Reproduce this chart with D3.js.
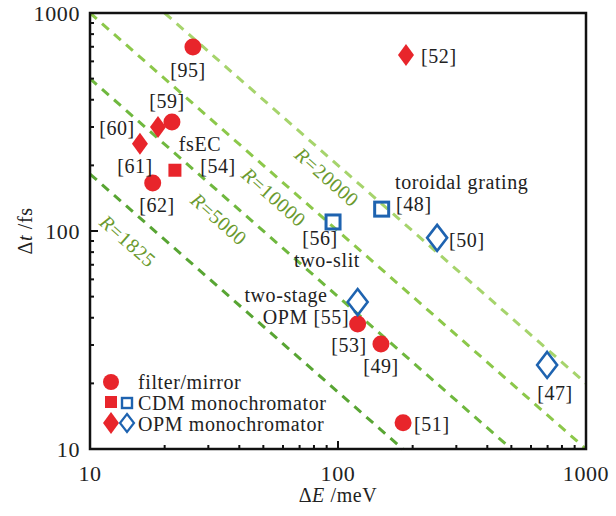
<!DOCTYPE html>
<html>
<head>
<meta charset="utf-8">
<script src="https://cdn.jsdelivr.net/npm/d3@7/dist/d3.min.js"></script>
<style>
  body { margin: 0; background: #fff; }
  text { font-family: "Liberation Serif", "DejaVu Serif", serif; fill: #222; letter-spacing: 0.6px; }
</style>
</head>
<body>
<script>
// data (x = ΔE in meV, y = Δt in fs)
const filterPts = [
  { x: 26, y: 698, ref: "[95]" },
  { x: 21.4, y: 316, ref: "[59]" },
  { x: 17.9, y: 166, ref: "[62]" },
  { x: 120, y: 37.4, ref: "[53]" },
  { x: 149, y: 30.3, ref: "[49]" },
  { x: 183, y: 13.2, ref: "[51]" }
];
const cdmFilled = [ { x: 22, y: 190, ref: "[54]" } ];
const cdmOpen = [
  { x: 95.5, y: 110, ref: "[56]" },
  { x: 150, y: 126, ref: "[48]" }
];
const opmFilled = [
  { x: 188, y: 641, ref: "[52]" },
  { x: 18.8, y: 300, ref: "[60]" },
  { x: 15.9, y: 251, ref: "[61]" }
];
const opmOpen = [
  { x: 251, y: 93, ref: "[50]" },
  { x: 120, y: 47.2, ref: "[55]" },
  { x: 697, y: 24.3, ref: "[47]" }
];
// resolving-power lines: Δt·ΔE = R
const rValues = [20000, 10000, 5000, 1825];
const rColors = ["#a6d46c", "#8cc84a", "#6fb83e", "#58a533"];
const xTicks = [10, 100, 1000];
const yTicks = [10, 100, 1000];

const W = 616, H = 516;
const m = { l: 90, t: 13, r: 30, b: 67 };
const x = d3.scaleLog().domain([10, 1000]).range([m.l, W - m.r]);
const y = d3.scaleLog().domain([10, 1000]).range([H - m.b, m.t]);

const svg = d3.select("body").append("svg").attr("width", W).attr("height", H);

const red = "#e8252b", blue = "#1e63b0";

// R lines
const rg = svg.append("g");
rValues.forEach((R, i) => {
  const x0 = Math.max(10, R / 1000), x1 = Math.min(1000, R / 10);
  rg.append("line")
    .attr("x1", x(x0)).attr("y1", y(R / x0))
    .attr("x2", x(x1)).attr("y2", y(R / x1))
    .attr("stroke", rColors[i]).attr("stroke-width", 3)
    .attr("stroke-dasharray", "9,7");
});

// R line labels
const ang = Math.atan2(y(10) - y(100), x(100) - x(10)) * 180 / Math.PI;
const rLabels = [
  { R: 20000, px: 327, py: 177 },
  { R: 10000, px: 274, py: 197 },
  { R: 5000, px: 219, py: 219 },
  { R: 1825, px: 128, py: 241 }
];
rLabels.forEach(d => {
  const t = svg.append("text")
    .attr("transform", `translate(${d.px},${d.py}) rotate(${ang})`)
    .attr("text-anchor", "middle").attr("dy", "0.35em")
    .style("font-size", "20px").style("fill", "#6a9a2e");
  t.append("tspan").style("font-style", "italic").style("fill", "#6a9a2e").text("R");
  t.append("tspan").style("fill", "#6a9a2e").text("=" + d.R);
});

// axes frame
svg.append("rect").attr("x", m.l).attr("y", m.t)
  .attr("width", W - m.r - m.l).attr("height", H - m.b - m.t)
  .attr("fill", "none").attr("stroke", "#111").attr("stroke-width", 2.5);

// minor + major ticks (inward)
const minor = [];
[10, 100].forEach(b => { for (let k = 2; k <= 9; k++) minor.push(b * k); });
const tg = svg.append("g").attr("stroke", "#111").attr("stroke-width", 2);
minor.forEach(v => {
  tg.append("line").attr("x1", x(v)).attr("x2", x(v)).attr("y1", y(10)).attr("y2", y(10) - 4);
  tg.append("line").attr("y1", y(v)).attr("y2", y(v)).attr("x1", x(10)).attr("x2", x(10) + 4);
});
[100].forEach(v => {
  tg.append("line").attr("x1", x(v)).attr("x2", x(v)).attr("y1", y(10)).attr("y2", y(10) - 8);
  tg.append("line").attr("y1", y(v)).attr("y2", y(v)).attr("x1", x(10)).attr("x2", x(10) + 8);
});

xTicks.forEach(v => {
  svg.append("text").attr("x", x(v)).attr("y", H - m.b + 32)
    .attr("text-anchor", "middle").style("font-size", "22px").text(v);
});
yTicks.forEach(v => {
  svg.append("text").attr("x", m.l - 10).attr("y", y(v)).attr("dy", "0.35em")
    .attr("text-anchor", "end").style("font-size", "22px").text(v);
});

// axis titles
const xt = svg.append("text").attr("x", x(100)).attr("y", H - 14)
  .attr("text-anchor", "middle").style("font-size", "20px");
xt.append("tspan").text("Δ");
xt.append("tspan").style("font-style", "italic").text("E");
xt.append("tspan").text(" /meV");
const yt = svg.append("text").attr("transform", `translate(32,${y(100)}) rotate(-90)`)
  .attr("text-anchor", "middle").style("font-size", "20px");
yt.append("tspan").text("Δ");
yt.append("tspan").style("font-style", "italic").text("t");
yt.append("tspan").text(" /fs");

// markers
const diamond = (cx, cy, w, h) =>
  `M${cx},${cy - h / 2}L${cx + w / 2},${cy}L${cx},${cy + h / 2}L${cx - w / 2},${cy}Z`;

const mg = svg.append("g");
mg.selectAll(".c").data(filterPts).join("circle")
  .attr("cx", d => x(d.x)).attr("cy", d => y(d.y)).attr("r", 8.5).attr("fill", red);
mg.selectAll(".s").data(cdmFilled).join("rect")
  .attr("x", d => x(d.x) - 6.5).attr("y", d => y(d.y) - 6.5)
  .attr("width", 13).attr("height", 13).attr("fill", red);
mg.selectAll(".os").data(cdmOpen).join("rect")
  .attr("x", d => x(d.x) - 7).attr("y", d => y(d.y) - 7)
  .attr("width", 14).attr("height", 14).attr("fill", "none")
  .attr("stroke", blue).attr("stroke-width", 3);
mg.selectAll(".d").data(opmFilled).join("path")
  .attr("d", d => diamond(x(d.x), y(d.y), 16, 22)).attr("fill", red);
mg.selectAll(".od").data(opmOpen).join("path")
  .attr("d", d => diamond(x(d.x), y(d.y), 20, 26)).attr("fill", "none")
  .attr("stroke", blue).attr("stroke-width", 2.6);

// point annotations
const notes = [
  { t: "[95]", px: 188, py: 70, a: "middle" },
  { t: "[59]", px: 167, py: 101, a: "middle" },
  { t: "[60]", px: 117, py: 128, a: "middle" },
  { t: "fsEC", px: 200, py: 144, a: "middle" },
  { t: "[54]", px: 218, py: 166, a: "middle" },
  { t: "[61]", px: 135, py: 166, a: "middle" },
  { t: "[62]", px: 157, py: 205, a: "middle" },
  { t: "[52]", px: 421, py: 56, a: "start" },
  { t: "toroidal grating", px: 395, py: 182, a: "start" },
  { t: "[48]", px: 396, py: 204, a: "start" },
  { t: "[50]", px: 449, py: 240, a: "start" },
  { t: "[56]", px: 320, py: 238, a: "middle" },
  { t: "two-slit", px: 327, py: 260, a: "middle" },
  { t: "two-stage", px: 286, py: 295, a: "middle" },
  { t: "OPM [55]", px: 306, py: 317, a: "middle" },
  { t: "[53]", px: 349, py: 345, a: "middle" },
  { t: "[49]", px: 381, py: 366, a: "middle" },
  { t: "[51]", px: 414, py: 424, a: "start" },
  { t: "[47]", px: 555, py: 393, a: "middle" }
];
svg.selectAll(".note").data(notes).join("text")
  .attr("x", d => d.px).attr("y", d => d.py).attr("dy", "0.35em")
  .attr("text-anchor", d => d.a).style("font-size", "20px").text(d => d.t);

// legend
const lg = svg.append("g");
lg.append("circle").attr("cx", 111).attr("cy", 382).attr("r", 8).attr("fill", red);
lg.append("rect").attr("x", 105).attr("y", 396).attr("width", 12).attr("height", 12).attr("fill", red);
lg.append("rect").attr("x", 122).attr("y", 398).attr("width", 10).attr("height", 10)
  .attr("fill", "none").attr("stroke", blue).attr("stroke-width", 2.4);
lg.append("path").attr("d", diamond(111, 423, 16, 22)).attr("fill", red);
lg.append("path").attr("d", diamond(127, 423, 14, 18)).attr("fill", "none")
  .attr("stroke", blue).attr("stroke-width", 2.2);
[["filter/mirror", 382], ["CDM monochromator", 403], ["OPM monochromator", 424]].forEach(([t, yy]) => {
  lg.append("text").attr("x", 138).attr("y", yy).attr("dy", "0.35em")
    .style("font-size", "20px").text(t);
});
</script>
</body>
</html>
